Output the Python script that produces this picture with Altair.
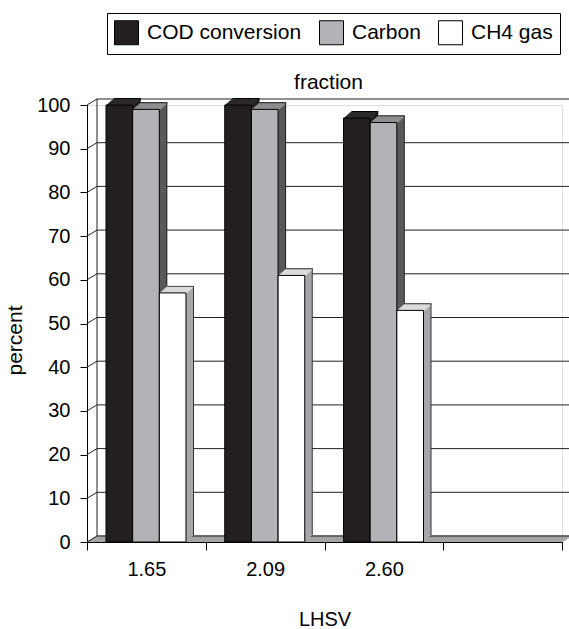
import altair as alt
import pandas as pd

# ---- data ----
categories = ["1.65", "2.09", "2.60", " "]
series = ["COD conversion", "Carbon", "CH4 gas"]
cod_conversion = [100, 100, 97]
carbon = [99, 99, 96]
ch4_gas = [57, 61, 53]
y_ticks = [0, 10, 20, 30, 40, 50, 60, 70, 80, 90, 100]
chart_title = ["fraction"]

# ---- styles ----
front_colors = ["#231f20", "#b1b3b6", "#ffffff"]
top_colors = ["#2d292a", "#8d8f91", "#dadbdc"]
side_colors = ["#231f20", "#58595b", "#a5a7aa"]
edge_colors = ["#000000", "#222222", "#333333"]
floor_color = "#9d9fa2"
FONT = "Liberation Sans"

W, H = 475, 437
WALL_DX, WALL_DY = 10, 6
BAR_DX, BAR_DY = 8, 7
K = 8
GROUP_L, GROUP_R = 19, 99

rows = []
for i, cat in enumerate(categories[:3]):
    for s, vals in zip(series, [cod_conversion, carbon, ch4_gas]):
        rows.append({"lhsv": cat, "series": s, "value": vals[i]})
bars = pd.DataFrame(rows)
ticks = pd.DataFrame({"value": y_ticks})
zero = pd.DataFrame({"value": [y_ticks[0]], "top": [y_ticks[-1]]})
title_df = pd.DataFrame({"label": chart_title})

x_axis = alt.Axis(title="LHSV", tickBand="extent", labelAngle=0, tickSize=8,
                  labelPadding=9, labelFontSize=20, labelFont=FONT, labelColor="black",
                  titleFontSize=20, titleFont=FONT, titleFontWeight="normal", titleColor="black",
                  titleY=83, titleBaseline="alphabetic", domainColor="black", tickColor="black",
                  grid=False, zindex=1)
y_axis = alt.Axis(title="percent", values=y_ticks, tickSize=7, labelPadding=10,
                  labelFontSize=20, labelFont=FONT, labelColor="black",
                  titleFontSize=21, titleFont=FONT, titleFontWeight="normal", titleColor="black",
                  titleAngle=270, titleX=-72, titleY=235, titleAlign="center", titleBaseline="middle",
                  domainColor="black", tickColor="black", grid=False, zindex=1)

x_enc = alt.X("lhsv:N", scale=alt.Scale(domain=categories, paddingInner=0, paddingOuter=0), axis=x_axis)
y_enc = alt.Y("value:Q", scale=alt.Scale(domain=[0, 100], nice=False), axis=y_axis)


def xoff(dx):
    return alt.XOffset("series:N", scale=alt.Scale(domain=series, range=[GROUP_L + dx, GROUP_R + dx],
                                                   paddingInner=0, paddingOuter=0))


def col(rng, legend=None):
    return alt.Color("series:N", scale=alt.Scale(domain=series, range=rng), legend=legend)


layers = []
# floor (stacked strips forming a parallelogram)
for k in range(0, WALL_DY + 1):
    dx = WALL_DX * k / WALL_DY
    layers.append(alt.Chart(zero).mark_rule(color=floor_color, strokeWidth=1.5, yOffset=-k).encode(
        x=alt.value(dx), x2=alt.value(W + dx), y=y_enc))
# back wall grid lines
layers.append(alt.Chart(ticks).mark_rule(color="#222222", strokeWidth=1, yOffset=-WALL_DY).encode(
    x=alt.value(WALL_DX), x2=alt.value(W + WALL_DX), y=y_enc))
# side wall diagonals
layers.append(alt.Chart(ticks).mark_rule(color="#222222", strokeWidth=1, y2Offset=-WALL_DY).encode(
    x=alt.value(0), x2=alt.value(WALL_DX), y=y_enc, y2=alt.Y2("value:Q")))
# back wall left edge
layers.append(alt.Chart(zero).mark_rule(color="#222222", strokeWidth=1, yOffset=-WALL_DY, y2Offset=-WALL_DY).encode(
    x=alt.value(WALL_DX), y=y_enc, y2=alt.Y2("top:Q")))

# bar extrusions (side faces)
for k in range(K, 0, -1):
    dx = BAR_DX * k / K
    dy = BAR_DY * k / K
    rng = edge_colors if k == K else side_colors
    layers.append(alt.Chart(bars).mark_bar(yOffset=-dy, y2Offset=-dy).encode(
        x=x_enc, xOffset=xoff(dx), y=y_enc, color=col(rng)))
# bar top faces
for k in range(K, 0, -1):
    dx = BAR_DX * k / K
    dy = BAR_DY * k / K
    rng = edge_colors if k == K else top_colors
    layers.append(alt.Chart(bars).mark_bar(yOffset=-dy, y2Offset=-dy + 1.6).encode(
        x=x_enc, xOffset=xoff(dx), y=y_enc, y2=alt.Y2("value:Q"), color=col(rng)))
# front faces with legend
legend = alt.Legend(title=None, orient="none", legendX=20, legendY=-92, direction="horizontal",
                    columns=3, strokeColor="black", fillColor="white", padding=7,
                    symbolType="square", symbolSize=576, symbolStrokeColor="black",
                    symbolStrokeWidth=1, symbolOpacity=1, labelFontSize=21, labelFont=FONT,
                    labelColor="black", labelOffset=8, columnPadding=15, labelLimit=300)
layers.append(alt.Chart(bars).mark_bar(stroke="black", strokeWidth=1).encode(
    x=x_enc, xOffset=xoff(0), y=y_enc, color=col(front_colors, legend)))

# chart title "fraction" above the back wall
layers.append(alt.Chart(title_df).mark_text(fontSize=21, font=FONT, color="black", align="center",
                                             baseline="alphabetic").encode(
    text="label:N", x=alt.value(W / 2 + 4), y=alt.value(-16)))

chart = alt.layer(*layers).resolve_scale(xOffset="independent", color="independent").properties(
    width=W, height=H,
    autosize=alt.AutoSizeParams(type="none"),
    padding={"left": 87, "top": 105, "right": 7, "bottom": 87},
).configure_view(stroke=None).configure(background="white")

chart.save("out.html", embed_options={"renderer": "svg", "actions": False})
